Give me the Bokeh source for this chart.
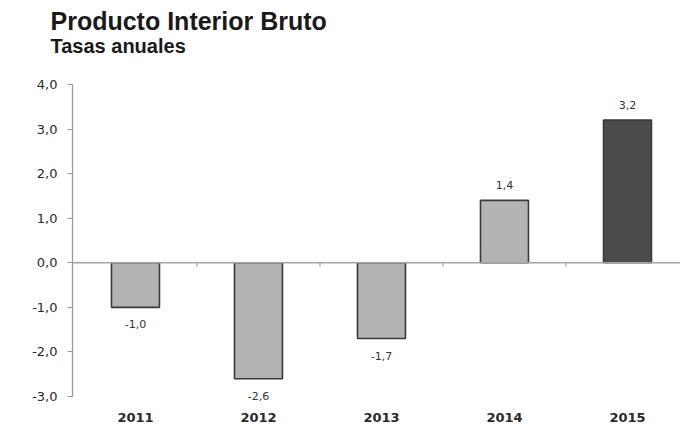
from bokeh.plotting import figure
from bokeh.models import Range1d, FixedTicker, Span, ColumnDataSource, LabelSet, Title
from bokeh.core.properties import value
from bokeh.embed import file_html
from bokeh.resources import INLINE

# ---- data ----
years = ["2011", "2012", "2013", "2014", "2015"]
growth = [-1.0, -2.6, -1.7, 1.4, 3.2]
y_ticks = [-3, -2, -1, 0, 1, 2, 3, 4]
y_tick_labels = ["-3,0", "-2,0", "-1,0", "0,0", "1,0", "2,0", "3,0", "4,0"]
title_text = "Producto Interior Bruto"
subtitle_text = "Tasas anuales"

# ---- styles ----
LIGHT = "#b2b3b5"
DARK = "#4b4b4d"
bar_colors = [LIGHT] * (len(years) - 1) + [DARK]

W, H = 680, 424
Y_MIN, Y_MAX = y_ticks[0], y_ticks[-1]
p = figure(width=W, height=H, output_backend="svg", toolbar_location=None,
           x_range=Range1d(-0.512, 4.431), y_range=Range1d(Y_MIN - 0.628, Y_MAX),
           min_border_left=72, min_border_right=0, min_border_top=84,
           min_border_bottom=0)
p.outline_line_color = None
p.xgrid.visible = False
p.ygrid.visible = False
p.background_fill_color = "white"
p.border_fill_color = "white"

idx = list(range(len(years)))
labels = [f"{v:.1f}".replace(".", ",") for v in growth]
offsets = [15 if v >= 0 else -17 for v in growth]
src = ColumnDataSource(dict(x=idx, top=growth, color=bar_colors,
                            label=labels, yoff=offsets))

p.vbar(x="x", top="top", bottom=0, width=0.39, fill_color="color",
       line_color="#3a3a3a", line_width=1.6, source=src)

# zero line with category separator ticks
p.add_layout(Span(location=0, dimension="width", line_color="#a5a5a5", line_width=1.5))
bounds = [i + 0.5 for i in idx[:-1]]
p.segment(x0=bounds, y0=[0] * len(bounds), x1=bounds, y1=[-0.09] * len(bounds),
          line_color="#a5a5a5", line_width=1.2)

p.add_layout(LabelSet(x="x", y="top", text="label", y_offset="yoff", source=src,
                      text_align="center", text_baseline="middle",
                      text_font=value("DejaVu Sans"), text_font_size=value("11px"),
                      text_color=value("#333333")))

# y axis
ya = p.yaxis[0]
ya.ticker = FixedTicker(ticks=y_ticks)
ya.bounds = (Y_MIN, Y_MAX)
ya.major_label_overrides = {t: l for t, l in zip(y_ticks, y_tick_labels)}
ya.axis_line_color = "#9a9a9a"
ya.axis_line_width = 1.3
ya.major_tick_line_color = "#9a9a9a"
ya.major_tick_in = 0
ya.major_tick_out = 5
ya.minor_tick_line_color = None
ya.major_label_text_font = "DejaVu Sans"
ya.major_label_text_font_size = "13px"
ya.major_label_text_color = "#2a2a2a"
ya.major_label_standoff = 10

# x axis (drawn at the bottom of the value scale)
xa = p.xaxis[0]
xa.fixed_location = Y_MIN
xa.ticker = FixedTicker(ticks=idx)
xa.major_label_overrides = {i: y for i, y in zip(idx, years)}
xa.axis_line_color = None
xa.major_tick_line_color = None
xa.minor_tick_line_color = None
xa.major_tick_out = 0
xa.major_tick_in = 0
xa.major_label_standoff = 16
xa.major_label_text_font = "DejaVu Sans"
xa.major_label_text_font_style = "bold"
xa.major_label_text_font_size = "13px"
xa.major_label_text_color = "#2a2a2a"

# titles (first added sits nearest to the plot)
p.add_layout(Title(text=subtitle_text, align="left", offset=-22, standoff=56,
                   text_font="Liberation Sans", text_font_style="bold",
                   text_font_size="20px", text_color="#1a1a1a"), "above")
p.add_layout(Title(text=title_text, align="left", offset=-22, standoff=-60,
                   text_font="Liberation Sans", text_font_style="bold",
                   text_font_size="25px", text_color="#1a1a1a"), "above")

open("out.html", "w").write(file_html(p, INLINE))
